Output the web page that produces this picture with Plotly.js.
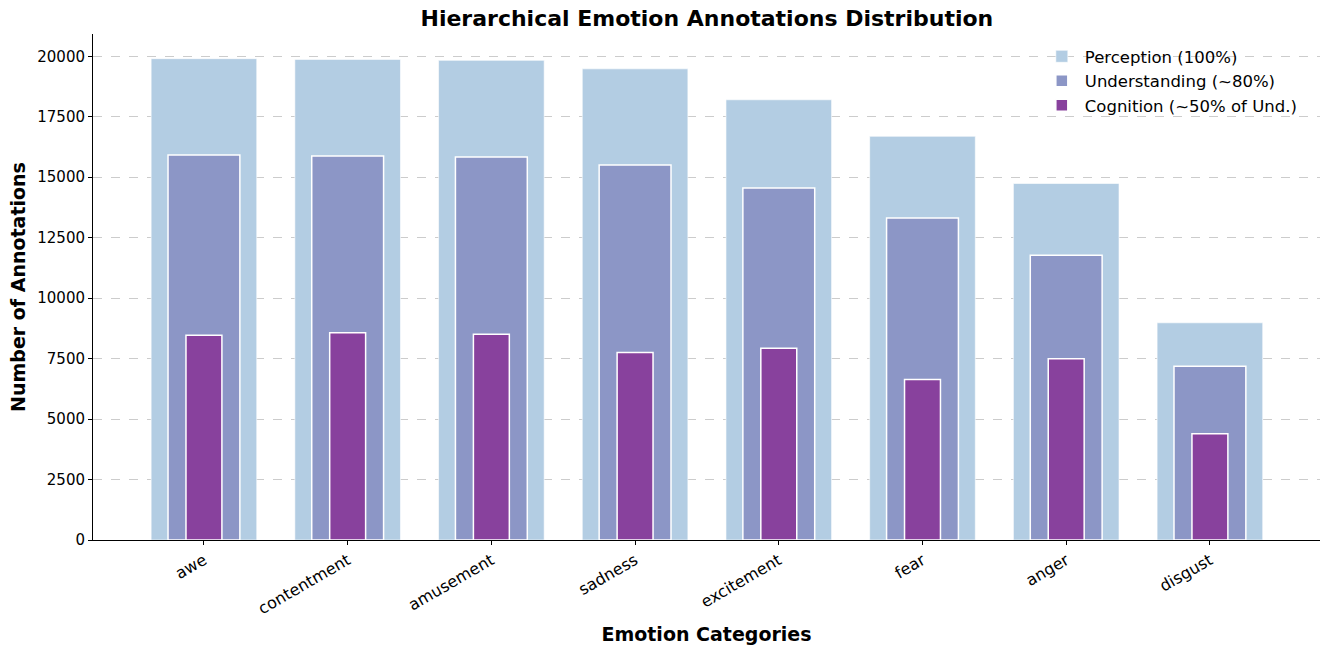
<!DOCTYPE html>
<html>
<head>
<meta charset="utf-8">
<script src="https://cdn.plot.ly/plotly-3.0.1.min.js"></script>
<style>html,body{margin:0;padding:0;background:#fff;}#chart{width:1320px;height:646px;}</style>
</head>
<body>
<div id="chart"></div>
<script>
const categories = ["awe", "contentment", "amusement", "sadness", "excitement", "fear", "anger", "disgust"];
const perception = [19900, 19870, 19830, 19480, 18200, 16690, 14740, 8980];
const understanding = [15920, 15880, 15830, 15500, 14550, 13310, 11770, 7180];
const cognition = [8470, 8570, 8510, 7750, 7930, 6640, 7490, 4390];
const seriesNames = ["Perception (100%)", "Understanding (~80%)", "Cognition (~50% of Und.)"];
const yTicks = [0, 2500, 5000, 7500, 10000, 12500, 15000, 17500, 20000];

const font = "DejaVu Sans, Arial, sans-serif";
const traces = [
  {type: "bar", x: categories, y: perception, name: seriesNames[0], width: 0.735,
   marker: {color: "#b3cde3", line: {color: "rgba(255,255,255,0.6)", width: 1}}, hoverinfo: "y"},
  {type: "bar", x: categories, y: understanding, name: seriesNames[1], width: 0.5,
   marker: {color: "#8c96c6", line: {color: "#ffffff", width: 1.5}}, hoverinfo: "y"},
  {type: "bar", x: categories, y: cognition, name: seriesNames[2], width: 0.25,
   marker: {color: "#88419d", line: {color: "#ffffff", width: 1.5}}, hoverinfo: "y"}
];
const layout = {
  width: 1320, height: 646,
  margin: {l: 93, r: 0, t: 34, b: 106},
  paper_bgcolor: "#ffffff", plot_bgcolor: "#ffffff",
  barmode: "overlay",
  font: {family: font, size: 15, color: "#000"},
  title: {text: "<b>Hierarchical Emotion Annotations Distribution</b>", x: 0.5355, xanchor: "center", y: 0.972, yanchor: "middle",
          font: {family: font, size: 22, color: "#000"}},
  xaxis: {
    type: "category", range: [-0.772, 7.766],
    tickangle: -30, ticks: "outside", ticklen: 4, tickcolor: "#000",
    tickfont: {family: font, size: 16},
    showline: true, linecolor: "#000", linewidth: 1, showgrid: false, zeroline: false,
    title: {text: "<b>Emotion Categories</b>", font: {family: font, size: 19}, standoff: 10}
  },
  yaxis: {
    range: [0, 20920], tickvals: yTicks, ticktext: yTicks.map(String),
    ticks: "outside", ticklen: 4, tickcolor: "#000",
    tickfont: {family: font, size: 15},
    showline: true, linecolor: "#000", linewidth: 1,
    showgrid: true, gridcolor: "#cccccc", gridwidth: 1, griddash: "dash", zeroline: false,
    title: {text: "<b>Number of Annotations</b>", font: {family: font, size: 19}, standoff: 6}
  },
  legend: {x: 0.986, xanchor: "right", y: 0.99, yanchor: "top", bgcolor: "rgba(255,255,255,0)",
           font: {family: font, size: 16.5}, itemwidth: 36, tracegroupgap: 0},
  showlegend: true
};
Plotly.newPlot("chart", traces, layout, {displayModeBar: false, staticPlot: true});
</script>
</body>
</html>
